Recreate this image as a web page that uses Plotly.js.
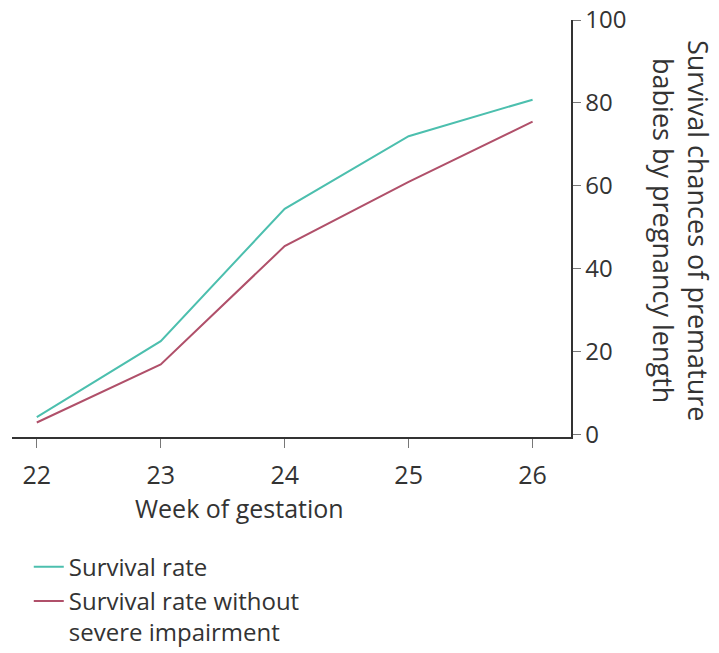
<!DOCTYPE html>
<html>
<head>
<meta charset="utf-8">
<script src="https://cdn.plot.ly/plotly-3.0.1.min.js"></script>
<style>html,body{margin:0;padding:0;background:#fff;}#chart{width:719px;height:653px;}</style>
</head>
<body>
<div id="chart"></div>
<script>
const weeks = [22, 23, 24, 25, 26];
const survivalRate = [4.3, 22.6, 54.5, 72, 80.8];
const survivalNoImpairment = [3, 17, 45.5, 61, 75.5];
const xTickLabels = ["22", "23", "24", "25", "26"];
const yTicks = [0, 20, 40, 60, 80, 100];

const FONT = "Open Sans, Noto Sans, sans-serif";
const TXT = "#333333";

const traces = [
  {x: weeks, y: survivalRate, type: "scatter", mode: "lines", name: "Survival rate",
   line: {color: "#4cbfae", width: 2}},
  {x: weeks, y: survivalNoImpairment, type: "scatter", mode: "lines",
   name: "Survival rate without<br>severe impairment",
   line: {color: "#b0506a", width: 2}}
];

const layout = {
  width: 719, height: 653,
  margin: {l: 12, r: 148, t: 20, b: 216, autoexpand: false},
  paper_bgcolor: "#ffffff", plot_bgcolor: "#ffffff",
  font: {family: FONT, color: TXT, size: 24},
  showlegend: true,
  legend: {x: 0.03, xanchor: "left", y: -0.258, yanchor: "top", valign: "top",
           font: {family: FONT, size: 24, color: TXT}, tracegroupgap: 3,
           bgcolor: "rgba(0,0,0,0)"},
  xaxis: {range: [21.8, 26.31], tickvals: weeks, ticktext: xTickLabels,
          showgrid: false, zeroline: false, showline: true, linecolor: "#333", linewidth: 1.5,
          ticks: "outside", ticklen: 9, tickcolor: "#777", tickwidth: 1,
          ticklabelstandoff: 6, automargin: false,
          tickfont: {family: FONT, size: 25, color: TXT},
          fixedrange: true},
  yaxis: {range: [-0.5, 100], side: "right", tickvals: yTicks,
          showgrid: false, zeroline: false, showline: true, linecolor: "#333", linewidth: 1.5,
          ticks: "outside", ticklen: 8, tickcolor: "#777", tickwidth: 1,
          automargin: false,
          tickfont: {family: FONT, size: 24, color: TXT},
          fixedrange: true},
  annotations: [
    {text: "Week of gestation", xref: "paper", yref: "paper",
     x: (239 - 12) / 559, y: (437 - 508) / 417, xanchor: "center", yanchor: "middle",
     showarrow: false, font: {family: FONT, size: 25, color: TXT}},
    {text: "Survival chances of premature<br>babies by pregnancy length",
     xref: "paper", yref: "paper", x: (681 - 12) / 559, y: (437 - 230) / 417,
     xanchor: "center", yanchor: "middle",
     textangle: 90, showarrow: false, font: {family: FONT, size: 27, color: TXT}}
  ]
};

Plotly.newPlot("chart", traces, layout, {displayModeBar: false, staticPlot: true});
</script>
</body>
</html>
